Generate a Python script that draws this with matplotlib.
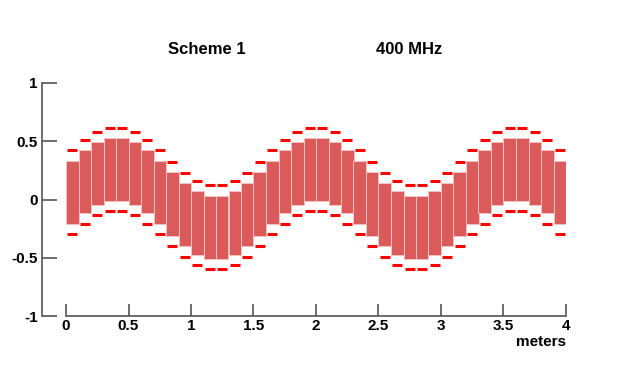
import matplotlib
matplotlib.use("Agg")
import matplotlib.pyplot as plt
import numpy as np

# ── Data ─────────────────────────────────────────────────────────────────────
bar_left = [round(0.1 * i, 1) for i in range(40)]
bar_top = [0.333, 0.422, 0.496, 0.530, 0.530, 0.496, 0.422, 0.333,
           0.234, 0.140, 0.071, 0.034, 0.034, 0.071, 0.140, 0.234,
           0.333, 0.422, 0.496, 0.530, 0.530, 0.496, 0.422, 0.333,
           0.234, 0.140, 0.071, 0.034, 0.034, 0.071, 0.140, 0.234,
           0.333, 0.422, 0.496, 0.530, 0.530, 0.496, 0.422, 0.333]
bar_bottom = [-0.214, -0.120, -0.051, -0.014, -0.014, -0.051, -0.120, -0.214,
              -0.311, -0.399, -0.476, -0.513, -0.513, -0.476, -0.399, -0.311,
              -0.214, -0.120, -0.051, -0.014, -0.014, -0.051, -0.120, -0.214,
              -0.311, -0.399, -0.476, -0.513, -0.513, -0.476, -0.399, -0.311,
              -0.214, -0.120, -0.051, -0.014, -0.014, -0.051, -0.120, -0.214]
mark_upper = [0.422, 0.510, 0.581, 0.618, 0.618, 0.581, 0.510, 0.422,
              0.322, 0.228, 0.160, 0.123, 0.123, 0.160, 0.228, 0.322,
              0.422, 0.510, 0.581, 0.618, 0.618, 0.581, 0.510, 0.422,
              0.322, 0.228, 0.160, 0.123, 0.123, 0.160, 0.228, 0.322,
              0.422, 0.510, 0.581, 0.618, 0.618, 0.581, 0.510, 0.422]
mark_lower = [-0.299, -0.208, -0.134, -0.100, -0.100, -0.134, -0.208, -0.299,
              -0.399, -0.490, -0.561, -0.598, -0.598, -0.561, -0.490, -0.399,
              -0.299, -0.208, -0.134, -0.100, -0.100, -0.134, -0.208, -0.299,
              -0.399, -0.490, -0.561, -0.598, -0.598, -0.561, -0.490, -0.399,
              -0.299, -0.208, -0.134, -0.100, -0.100, -0.134, -0.208, -0.299]
bar_width = 0.1

x_ticks = [0, 0.5, 1, 1.5, 2, 2.5, 3, 3.5, 4]
x_labels = ["0", "0.5", "1", "1.5", "2", "2.5", "3", "3.5", "4"]
y_ticks = [-1, -0.5, 0, 0.5, 1]
y_labels = ["-1", "-0.5", "0", "0.5", "1"]

plt.rcParams['font.family'] = ['Liberation Sans', 'DejaVu Sans']

# ── Figure ───────────────────────────────────────────────────────────────────
fig = plt.figure(figsize=(6.24, 3.86), dpi=100, facecolor='white')
ax = fig.add_axes([42 / 624, 70 / 386, (566 - 42) / 624, (316 - 83) / 386])
ax.set_xlim(-0.192, 4.0)
ax.set_ylim(-1, 1)

heights = np.array(bar_top) - np.array(bar_bottom)
ax.bar(bar_left, heights, width=bar_width, bottom=bar_bottom, align='edge',
       color='#db5a5a', edgecolor='#f3c2c2', linewidth=0.7, zorder=2)

centers = np.array(bar_left) + bar_width / 2
for ys in (mark_upper, mark_lower):
    ax.hlines(ys, centers - 0.04, centers + 0.04, color='#ff0000',
              linewidth=2.2, zorder=3)

for s in ('top', 'right'):
    ax.spines[s].set_visible(False)
ax.spines['left'].set_color('#555555')
ax.spines['bottom'].set_color('#555555')
ax.spines['left'].set_linewidth(1.2)
ax.spines['bottom'].set_linewidth(1.2)
ax.spines['bottom'].set_bounds(0, 4)
ax.spines['bottom'].set_position(('data', -1))

ax.set_xticks(x_ticks)
ax.set_xticklabels(x_labels, fontweight='bold', fontsize=11)
ax.set_yticks(y_ticks)
ax.set_yticklabels(y_labels, fontweight='bold', fontsize=11)
ax.tick_params(axis='x', direction='in', length=9, width=1.2,
               color='#555555', pad=2)
ax.tick_params(axis='y', direction='in', length=11, width=1.2,
               color='#555555', pad=3)

ax.text(4.0, -1.22, 'meters', ha='right', va='center',
        fontsize=11, fontweight='bold')

fig.text(207 / 624, 1 - 49 / 386, 'Scheme 1', ha='center', va='center',
         fontsize=12, fontweight='bold')
fig.text(409 / 624, 1 - 49 / 386, '400 MHz', ha='center', va='center',
         fontsize=12, fontweight='bold')

fig.savefig('out.png', dpi=100, facecolor='white')
